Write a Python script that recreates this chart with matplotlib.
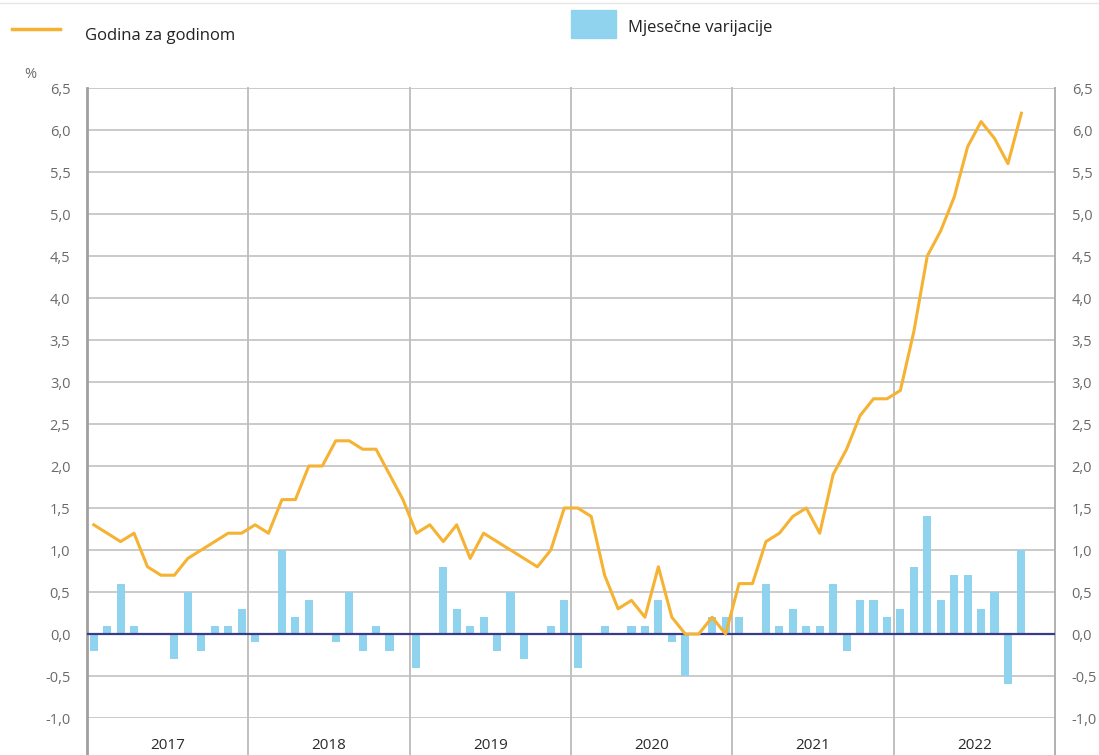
import matplotlib
matplotlib.use("Agg")
import matplotlib.pyplot as plt
from matplotlib.patches import Rectangle

plt.rcParams['font.family'] = ['Open Sans', 'DejaVu Sans']

# monthly data Jan 2017 - Oct 2022
years = ['2017', '2018', '2019', '2020', '2021', '2022']
yoy = [1.3, 1.2, 1.1, 1.2, 0.8, 0.7, 0.7, 0.9, 1.0, 1.1, 1.2, 1.2,
       1.3, 1.2, 1.6, 1.6, 2.0, 2.0, 2.3, 2.3, 2.2, 2.2, 1.9, 1.6,
       1.2, 1.3, 1.1, 1.3, 0.9, 1.2, 1.1, 1.0, 0.9, 0.8, 1.0, 1.5,
       1.5, 1.4, 0.7, 0.3, 0.4, 0.2, 0.8, 0.2, 0.0, 0.0, 0.2, 0.0,
       0.6, 0.6, 1.1, 1.2, 1.4, 1.5, 1.2, 1.9, 2.2, 2.6, 2.8, 2.8,
       2.9, 3.6, 4.5, 4.8, 5.2, 5.8, 6.1, 5.9, 5.6, 6.2]
mom = [-0.2, 0.1, 0.6, 0.1, 0.0, 0.0, -0.3, 0.5, -0.2, 0.1, 0.1, 0.3,
       -0.1, 0.0, 1.0, 0.2, 0.4, 0.0, -0.1, 0.5, -0.2, 0.1, -0.2, 0.0,
       -0.4, 0.0, 0.8, 0.3, 0.1, 0.2, -0.2, 0.5, -0.3, 0.0, 0.1, 0.4,
       -0.4, 0.0, 0.1, 0.0, 0.1, 0.1, 0.4, -0.1, -0.5, 0.0, 0.2, 0.2,
       0.2, 0.0, 0.6, 0.1, 0.3, 0.1, 0.1, 0.6, -0.2, 0.4, 0.4, 0.2,
       0.3, 0.8, 1.4, 0.4, 0.7, 0.7, 0.3, 0.5, -0.6, 1.0]
yticks = [-1.0, -0.5, 0.0, 0.5, 1.0, 1.5, 2.0, 2.5, 3.0, 3.5, 4.0, 4.5, 5.0, 5.5, 6.0, 6.5]

line_col = '#f5b233'
bar_col = '#8fd3ee'
grid_col = '#cacaca'
tick_col = '#6a6a6a'

fig = plt.figure(figsize=(10.99, 7.55), dpi=100)
ax = fig.add_axes([87/1099, 1 - 718/755, (1055 - 87)/1099, (718 - 88)/755])

x = list(range(len(yoy)))
ax.bar(x, mom, width=0.6, color=bar_col, zorder=2)
ax.plot(x, yoy, color=line_col, lw=2.2, zorder=4)
ax.axhline(0, color='#3a3a8c', lw=1.6, zorder=3)

ax.set_xlim(-0.5, 71.5)
ax.set_ylim(-1.0, 6.5)
ax.set_yticks(yticks)
ax.set_yticklabels([f'{v:.1f}'.replace('.', ',') for v in yticks])
ax.tick_params(axis='y', length=0, colors=tick_col, labelsize=10.5, pad=12,
               labelleft=True, labelright=True)
ax.set_xticks([])
for v in yticks:
    ax.axhline(v, color=grid_col, lw=1.4, zorder=1)

# year separators extend below the plot
for k in range(1, len(years)):
    ax.axvline(12 * k - 0.5, ymin=-0.06, ymax=1, color='#c0c0c0', lw=1.4,
               clip_on=False, zorder=1)
for k, yr in enumerate(years):
    ax.text(12 * k + 5.5, -1.33, yr, ha='center', va='center', fontsize=11,
            color='#2a2a2a')

for side in ['top', 'bottom']:
    ax.spines[side].set_visible(False)
ax.spines['left'].set_color('#a0a0a0')
ax.spines['left'].set_linewidth(2)
ax.spines['left'].set_bounds(-1.45, 6.5)
ax.spines['right'].set_color('#b0b0b0')
ax.spines['right'].set_linewidth(1.4)
ax.spines['right'].set_bounds(-1.45, 6.5)

# legend / header
fig.add_artist(plt.Line2D([12/1099, 60/1099], [1 - 29/755, 1 - 29/755],
                          color=line_col, lw=2.5))
fig.text(85/1099, 1 - 36/755, 'Godina za godinom', fontsize=12,
         va='center', ha='left', color='#222222')
fig.add_artist(Rectangle((571/1099, 1 - 38/755), 45/1099, 28/755,
                         color=bar_col, transform=fig.transFigure))
fig.text(628/1099, 1 - 28/755, 'Mjesečne varijacije', fontsize=12,
         va='center', ha='left', color='#222222')
fig.text(24/1099, 1 - 75/755, '%', fontsize=10.5, va='center', ha='left',
         color=tick_col)
fig.add_artist(plt.Line2D([0, 1], [1 - 3/755, 1 - 3/755], color='#e6e6e6', lw=1))

fig.savefig('out.png', dpi=100)
